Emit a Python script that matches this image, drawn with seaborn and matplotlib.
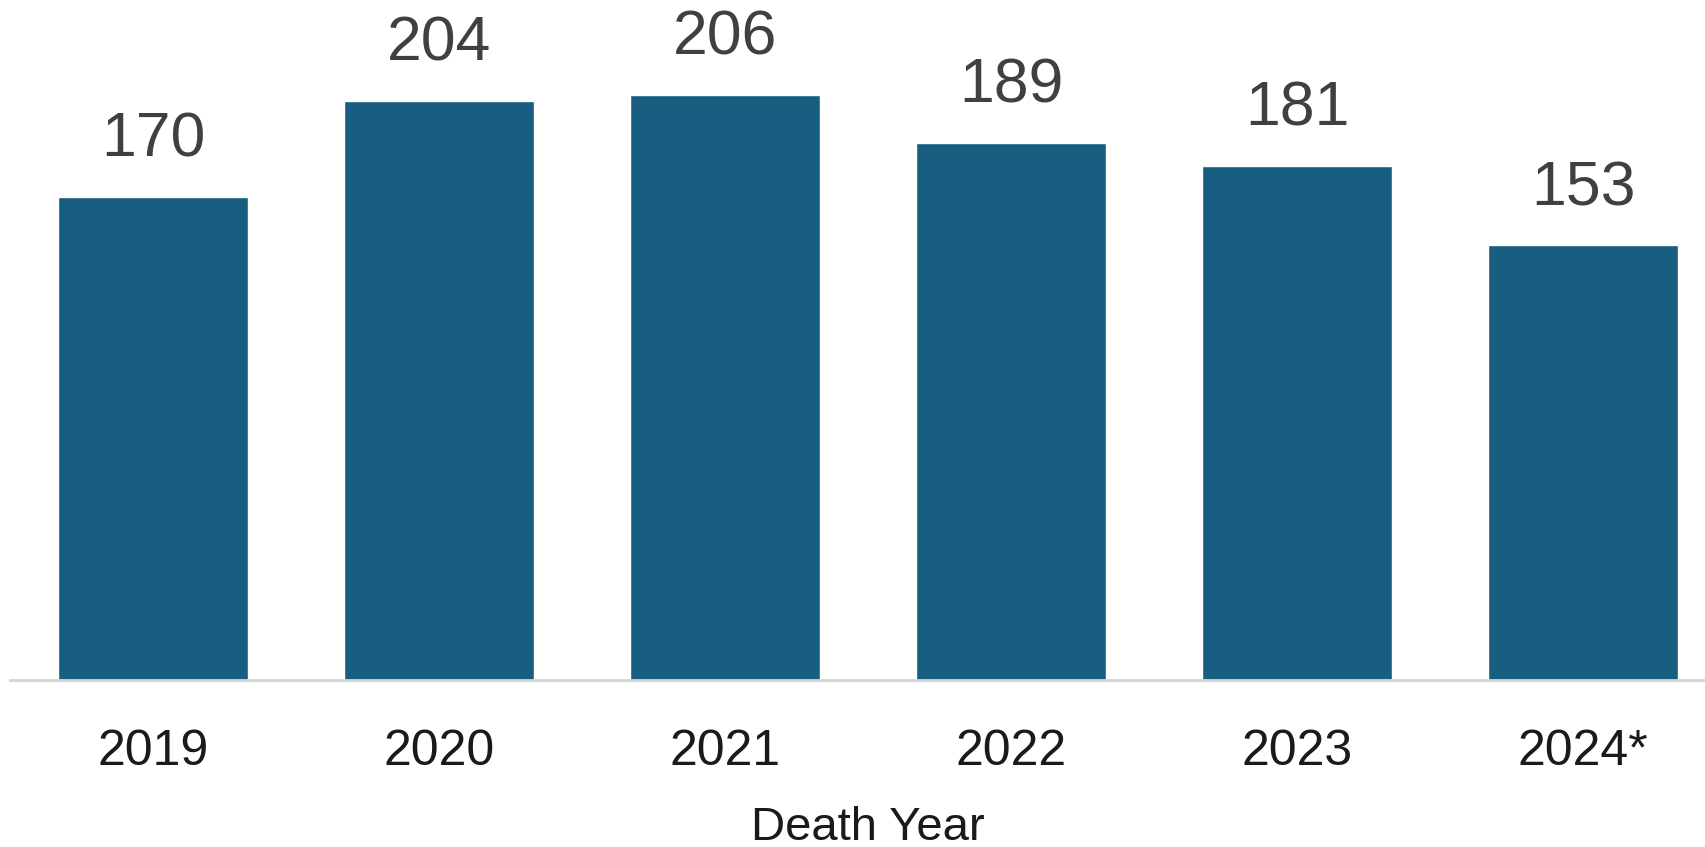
import matplotlib
matplotlib.use("Agg")
import matplotlib.pyplot as plt
import seaborn as sns
import pandas as pd

years = ["2019", "2020", "2021", "2022", "2023", "2024*"]
deaths = [170, 204, 206, 189, 181, 153]

BAR_COLOR = "#175E80"

sns.set_theme(style="white")
plt.rcParams["font.family"] = ["Liberation Sans", "DejaVu Sans"]

df = pd.DataFrame({"year": years, "deaths": deaths})

W, H = 1706, 847
fig = plt.figure(figsize=(W / 100, H / 100), dpi=100)
# the plot area runs slightly past the right edge of the canvas
ax = fig.add_axes([10 / W, (H - 680) / H, 1716 / W, 680 / H])

sns.barplot(data=df, x="year", y="deaths", color=BAR_COLOR, width=0.667,
            saturation=1, ax=ax)

ax.set_xlim(-0.5, 5.5)
ax.set_ylim(0, 239.4)

for i, v in enumerate(deaths):
    ax.annotate(str(v), xy=(i, v), xytext=(0, 29), textcoords="offset points",
                ha="center", va="baseline", fontsize=45, color="#404040")

for s in ["top", "right", "left"]:
    ax.spines[s].set_visible(False)
ax.spines["bottom"].set_color("#d4d4d4")
ax.spines["bottom"].set_linewidth(2)

ax.set_yticks([])
ax.set_ylabel("")
ax.tick_params(axis="x", length=0, pad=35.5, labelsize=36, labelcolor="#1a1a1a")
ax.set_xlabel("Death Year", fontsize=34, color="#1a1a1a", labelpad=22)

fig.savefig("out.png", dpi=100, facecolor="white")
